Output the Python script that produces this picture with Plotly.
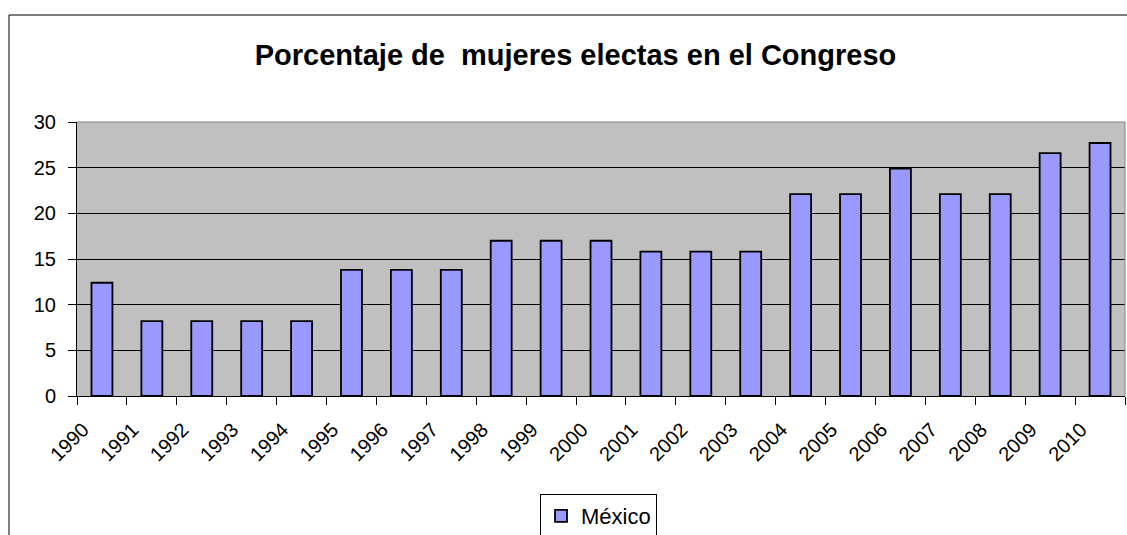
import plotly.graph_objects as go

years = ["1990", "1991", "1992", "1993", "1994", "1995", "1996", "1997", "1998", "1999",
         "2000", "2001", "2002", "2003", "2004", "2005", "2006", "2007", "2008", "2009", "2010"]
mexico = [12.4, 8.2, 8.2, 8.2, 8.2, 13.8, 13.8, 13.8, 17.0, 17.0,
          17.0, 15.8, 15.8, 15.8, 22.1, 22.1, 24.9, 22.1, 22.1, 26.6, 27.7]
y_ticks = [0, 5, 10, 15, 20, 25, 30]

FONT = "Liberation Sans, Arial, sans-serif"

W, H = 1127, 535
L, R, T, B = 77, 2, 122, 139
PW, PH = W - L - R, H - T - B


def py(fig_y):
    """figure pixel y -> paper y"""
    return (T + PH - fig_y) / PH


def px(fig_x):
    """figure pixel x -> paper x"""
    return (fig_x - L) / PW


fig = go.Figure()
fig.add_trace(go.Bar(
    x=years, y=mexico, name="México", width=0.42,
    marker=dict(color="#9999FF", line=dict(color="black", width=1.8)),
))

fig.update_layout(
    width=W, height=H,
    margin=dict(l=L, r=R, t=T, b=B),
    paper_bgcolor="white", plot_bgcolor="#C0C0C0",
    font=dict(family=FONT, size=20, color="black"),
    title=dict(text="<b>Porcentaje de  mujeres electas en el Congreso</b>",
               x=575.5 / W, xanchor="center", y=1 - 55 / H, yanchor="middle",
               font=dict(family=FONT, size=29, color="black")),
    showlegend=True,
    legend=dict(orientation="h", x=598.5 / W, xanchor="center", xref="container",
                y=1 - 494 / H, yanchor="top", yref="container",
                bgcolor="white", bordercolor="black", borderwidth=1,
                font=dict(family=FONT, size=22)),
)

fig.update_yaxes(range=[0, 30], tickvals=y_ticks, ticks="outside", ticklen=8,
                 tickcolor="black", showline=True, linecolor="black", linewidth=1,
                 showgrid=True, gridcolor="black", gridwidth=1, zeroline=False,
                 tickfont=dict(size=20), ticklabelstandoff=8)
fig.update_xaxes(type="category", tickson="boundaries", ticks="outside", ticklen=8,
                 tickcolor="black", showline=True, linecolor="black", linewidth=1,
                 tickangle=-45, showgrid=False, tickfont=dict(size=20),
                 ticklabelshift=-19, ticklabelstandoff=13)

# plot area top/right gray border
fig.add_shape(type="line", xref="paper", yref="paper", x0=0, x1=1, y0=1, y1=1,
              line=dict(color="#808080", width=1), layer="above")
fig.add_shape(type="line", xref="paper", yref="paper", x0=1, x1=1, y0=0, y1=1,
              line=dict(color="#808080", width=1), layer="above")
# outer chart border (extends past the visible window on the right and bottom)
fig.add_shape(type="rect", xref="paper", yref="paper",
              x0=px(9), x1=px(W + 20), y0=py(H + 20), y1=py(15),
              line=dict(color="black", width=1), layer="above")

fig.write_html("out.html",
               config={"displayModeBar": False},
               post_script="document.body.style.margin='0px';document.body.style.overflow='hidden';")
